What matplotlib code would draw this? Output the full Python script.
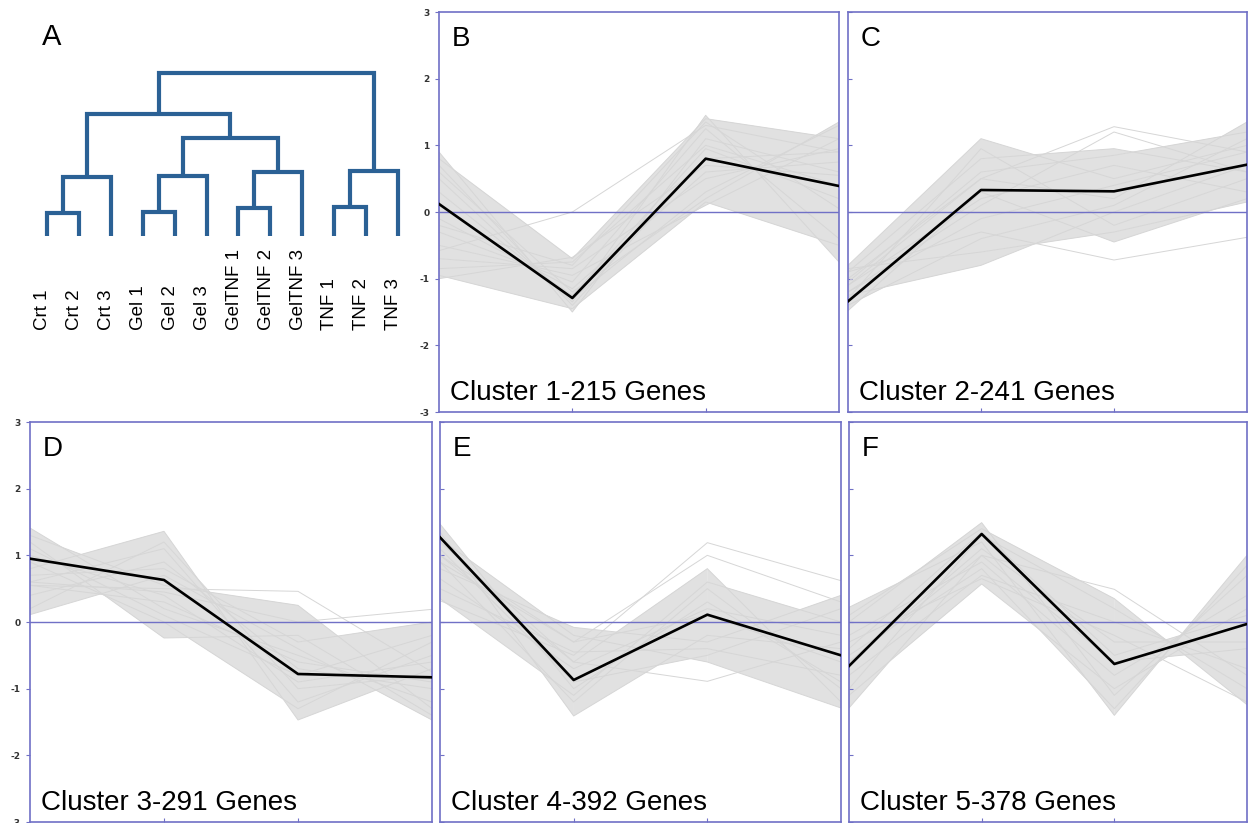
import matplotlib
matplotlib.use('Agg')
import matplotlib.pyplot as plt
from matplotlib.patches import Polygon
import numpy as np

plt.rcParams['font.family'] = ['Liberation Sans', 'DejaVu Sans']
plt.rcParams['axes.unicode_minus'] = False

# ---------------- data ----------------
leaf_labels = ['Crt 1', 'Crt 2', 'Crt 3', 'Gel 1', 'Gel 2', 'Gel 3',
               'GelTNF 1', 'GelTNF 2', 'GelTNF 3', 'TNF 1', 'TNF 2', 'TNF 3']
# linkage rows: (child a, child b, height); ids >= 12 are earlier merges
linkage = [(0, 1, 0.14), (12, 2, 0.36), (3, 4, 0.15), (14, 5, 0.37),
           (6, 7, 0.17), (16, 8, 0.39), (9, 10, 0.18), (18, 11, 0.40),
           (15, 17, 0.60), (13, 20, 0.75), (21, 19, 1.00)]

cluster_titles = ['Cluster 1-215 Genes', 'Cluster 2-241 Genes', 'Cluster 3-291 Genes',
                  'Cluster 4-392 Genes', 'Cluster 5-378 Genes']
panel_letters = ['B', 'C', 'D', 'E', 'F']

mean_c1 = [0.12, -1.29, 0.80, 0.39]
mean_c2 = [-1.34, 0.33, 0.31, 0.71]
mean_c3 = [0.95, 0.63, -0.78, -0.83]
mean_c4 = [1.27, -0.87, 0.11, -0.50]
mean_c5 = [-0.66, 1.32, -0.63, -0.03]

genes_c1 = [[0.90, -1.50, 1.10, 0.60], [0.70, -1.40, 0.80, 0.90], [0.50, -1.35, 1.45, -0.75],
            [0.30, -1.30, 0.30, 1.30], [0.10, -1.25, 0.95, 0.20], [-0.10, -1.15, 0.60, 0.75],
            [-0.30, -1.05, 1.25, -0.40], [-0.50, -0.95, 0.10, 1.10], [-0.70, -0.85, 0.50, 0.95],
            [-0.85, -0.75, 1.00, 0.40], [-1.00, -0.68, 0.70, 0.55], [0.60, -1.20, 0.20, 1.35],
            [-0.20, -0.80, 1.35, 0.05], [0.80, -0.70, 1.40, 1.10], [-0.95, -1.45, 0.15, -0.50]]
stray_c1 = [[-0.58, 0.00, 1.30, 0.90]]

genes_c2 = [[-0.80, 1.10, 0.50, 1.00], [-0.90, 0.80, 0.95, 0.60], [-1.00, 0.50, 0.20, 1.35],
            [-1.10, 0.20, 0.70, 0.30], [-1.20, -0.10, 0.40, 0.90], [-1.30, 0.95, -0.20, 0.50],
            [-1.40, -0.40, 0.10, 1.10], [-1.48, 0.30, -0.45, 0.20], [-1.25, -0.80, 0.00, 0.70],
            [-0.85, -0.60, -0.30, 0.15], [-1.05, 0.60, 0.85, 1.20]]
stray_c2 = [[-1.10, 0.50, 1.28, 0.90], [-0.90, -0.30, -0.72, -0.38], [-1.20, 0.10, 1.20, 0.60]]

genes_c3 = [[1.41, 0.20, -0.50, -1.20], [1.20, -0.24, -0.20, -1.40], [1.00, 0.40, -0.90, -0.60],
            [0.80, 1.36, -1.47, -0.70], [0.60, 1.10, -1.20, -0.50], [0.40, 0.90, -0.70, -1.00],
            [0.20, 1.20, -1.00, -0.80], [0.11, 0.70, -0.40, -1.47], [0.90, 0.00, -1.30, -0.30],
            [1.30, 0.55, 0.25, -1.30], [0.55, 0.30, -0.60, -0.90], [0.70, 0.80, -0.30, 0.00],
            [1.10, 0.10, -0.80, -0.20]]
stray_c3 = [[0.55, 0.50, 0.46, -0.75], [0.60, 0.45, 0.00, 0.19]]

genes_c4 = [[1.47, -1.00, 0.30, -0.90], [1.35, -1.41, -0.20, -0.40], [1.20, -0.60, 0.80, -1.20],
            [1.10, -0.90, -0.50, 0.20], [1.00, -0.30, 0.10, -0.60], [0.90, -1.20, 0.50, -1.00],
            [0.80, -0.08, -0.30, 0.40], [0.65, -0.70, 0.20, -0.20], [0.50, -0.45, -0.40, -0.80],
            [0.35, -1.10, 0.60, 0.00], [1.25, -0.20, -0.60, -1.29]]
stray_c4 = [[0.32, -0.50, 1.19, 0.62], [1.00, -0.60, -0.89, -0.30], [0.90, -0.30, 1.00, 0.30]]

genes_c5 = [[0.22, 1.20, -1.40, 1.00], [0.00, 1.49, -1.10, 0.70], [-0.20, 0.90, -0.80, 0.40],
            [-0.40, 1.35, -0.50, 0.10], [-0.60, 1.10, -0.30, -0.30], [-0.80, 0.70, 0.00, -0.70],
            [-1.00, 1.30, 0.20, -1.00], [-1.29, 1.00, -0.60, -0.40], [-1.10, 0.57, -1.00, 0.20],
            [0.10, 1.40, 0.35, -1.24], [-0.50, 0.80, -1.30, 0.85]]
stray_c5 = [[-0.60, 1.00, 0.49, -0.80], [-0.30, 0.65, -0.20, -1.20]]

means = [mean_c1, mean_c2, mean_c3, mean_c4, mean_c5]
genes = [genes_c1, genes_c2, genes_c3, genes_c4, genes_c5]
strays = [stray_c1, stray_c2, stray_c3, stray_c4, stray_c5]
y_ticks = [-3, -2, -1, 0, 1, 2, 3]
y_tick_labels = ['-3', '-2', '-1', '0', '1', '2', '3']

# ---------------- style ----------------
W, H = 1248, 823
BLUE = '#7070c6'
FILL = '#e1e1e1'
GLINE = '#d6d6d6'
DENDRO = '#2b6195'

fig = plt.figure(figsize=(W / 100, H / 100), dpi=100)


def ax_px(x0, y0, x1, y1):
    return fig.add_axes([x0 / W, 1 - y1 / H, (x1 - x0) / W, (y1 - y0) / H])


# ---------------- panel A: dendrogram ----------------
axA = ax_px(0, 0, 430, 410)
axA.axis('off')
axA.set_xlim(-47 / 31.9, (430 - 47) / 31.9)
axA.set_ylim((236 - 410) / 163, 236 / 163)
n = len(leaf_labels)
node_x = {i: float(i) for i in range(n)}
node_h = {i: 0.0 for i in range(n)}
for k, (a, b, h) in enumerate(linkage):
    xa, xb = node_x[a], node_x[b]
    axA.plot([xa, xa, xb, xb], [node_h[a], h, h, node_h[b]], color=DENDRO,
             lw=3.0, solid_capstyle='butt', solid_joinstyle='miter')
    node_x[n + k] = (xa + xb) / 2
    node_h[n + k] = h
for i, lab in enumerate(leaf_labels):
    axA.text(i - 0.13, -0.577, lab, rotation=90, ha='center', va='bottom', fontsize=13.5)
fig.text(42 / W, 1 - 45 / H, 'A', fontsize=21, va='baseline', ha='left')

# ---------------- cluster panels ----------------
rects = [(439, 12, 839, 412), (848, 12, 1247, 412),
         (30, 422, 432, 822), (440, 422, 841, 822), (849, 422, 1247, 822)]
labelled = [True, False, True, False, False]
xs = np.arange(4)

for idx in range(5):
    ax = ax_px(*rects[idx])
    ax.set_xlim(0, 3)
    ax.set_ylim(-3, 3)
    core = np.array(genes[idx])
    for j in range(3):
        order = np.argsort(core[:, j])
        for a, b in zip(order[:-1], order[1:]):
            poly = [(xs[j], core[a, j]), (xs[j + 1], core[a, j + 1]),
                    (xs[j + 1], core[b, j + 1]), (xs[j], core[b, j])]
            ax.add_patch(Polygon(poly, closed=True, fc=FILL, ec='none', zorder=1))
    for p in genes[idx]:
        ax.plot(xs, p, color=GLINE, lw=0.7, zorder=2)
    for p in strays[idx]:
        ax.plot(xs, p, color=GLINE, lw=0.7, zorder=2)
    ax.axhline(0, color=BLUE, lw=1.0, zorder=3)
    ax.plot(xs, means[idx], color='black', lw=1.9, zorder=4)

    for s in ax.spines.values():
        s.set_color(BLUE)
        s.set_linewidth(1.2)
    ax.set_xticks([1, 2])
    ax.tick_params(axis='x', direction='in', length=3, color=BLUE, labelbottom=False)
    ax.set_yticks(y_ticks)
    if labelled[idx]:
        ax.set_yticklabels(y_tick_labels)
        ax.tick_params(axis='y', direction='out', length=3, color=BLUE, pad=4,
                       labelsize=6.5, labelcolor='#333333')
        for t in ax.get_yticklabels():
            t.set_fontweight('bold')
            t.set_fontfamily('DejaVu Sans')
    else:
        ax.tick_params(axis='y', direction='in', length=3, color=BLUE, labelleft=False)

    ax.text((452 - 439) / 400 if idx == 0 else 0.032, 0.915, panel_letters[idx],
            transform=ax.transAxes, fontsize=20, va='baseline', ha='left', zorder=6)
    ax.text(0.027, 0.03, cluster_titles[idx], transform=ax.transAxes, fontsize=20,
            va='baseline', ha='left', zorder=6)

fig.savefig('out.png', dpi=100)
